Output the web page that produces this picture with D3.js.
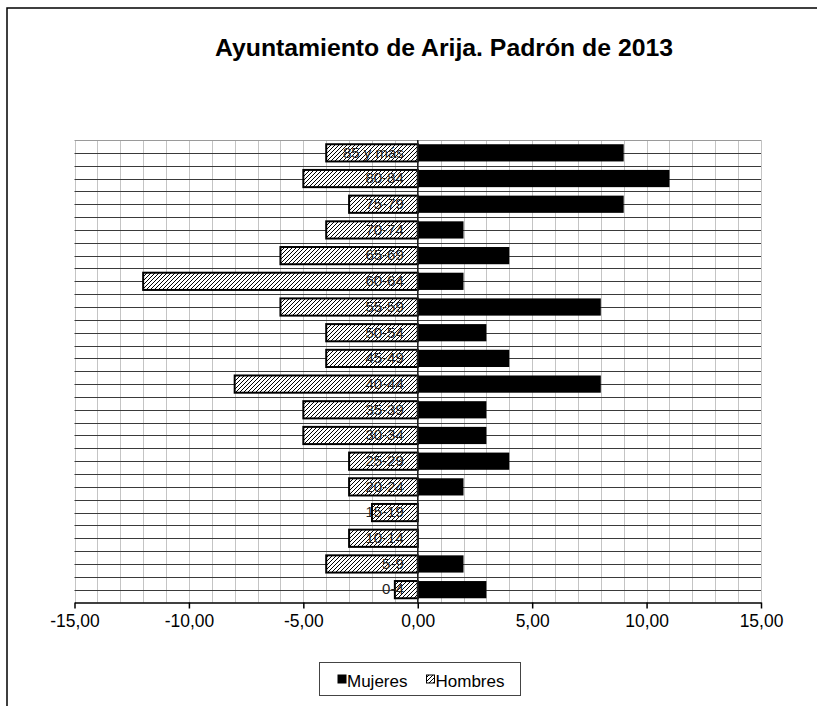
<!DOCTYPE html>
<html>
<head>
<meta charset="utf-8">
<script src="https://cdn.jsdelivr.net/npm/d3@7"></script>
<style>
  html, body { margin: 0; padding: 0; background: #fff; }
  svg { display: block; }
  text { font-family: "Liberation Sans", Arial, sans-serif; }
</style>
</head>
<body>
<svg id="chart" width="817" height="706"></svg>
<script>
// ---- data (bottom to top) ----
const categories = ["0-4","5-9","10-14","15-19","20-24","25-29","30-34","35-39","40-44","45-49","50-54","55-59","60-64","65-69","70-74","75-79","80-84","85 y más"];
const mujeres    = [3, 2, 0, 0, 2, 4, 3, 3, 8, 4, 3, 8, 2, 4, 2, 9, 11, 9];
const hombres    = [-1, -4, -3, -2, -3, -3, -5, -5, -8, -4, -4, -6, -12, -6, -4, -3, -5, -4];
const xTicks     = [-15, -10, -5, 0, 5, 10, 15];
const seriesNames = ["Mujeres", "Hombres"];
const titleText  = "Ayuntamiento de Arija. Padrón de 2013";

const svg = d3.select("#chart");

// outer frame (top and left edges visible)
svg.append("path").attr("d", "M7,706 V8 H817")
  .attr("fill", "none").attr("stroke", "#000").attr("stroke-width", 1.5);

// title
svg.append("text").attr("x", 444).attr("y", 56)
  .attr("text-anchor", "middle").attr("font-weight", "bold")
  .attr("font-size", 23.5).attr("textLength", 458).attr("lengthAdjust", "spacingAndGlyphs")
  .text(titleText);

const plot = { left: 74.5, right: 761, top: 140, bottom: 602.5 };

const x = d3.scaleLinear().domain([-15, 15]).range([plot.left, plot.right]);
const y = d3.scaleBand().domain(categories.slice().reverse())
  .range([plot.top, plot.bottom]).paddingInner(0.33).paddingOuter(0.165);
const yFull = d3.scaleLinear().domain([0, categories.length * 2]).range([plot.top, plot.bottom]);

// hatch pattern
const defs = svg.append("defs");
const pat = defs.append("pattern").attr("id", "hatch")
  .attr("patternUnits", "userSpaceOnUse").attr("width", 4).attr("height", 4);
pat.append("rect").attr("width", 4).attr("height", 4).attr("fill", "#fff");
pat.append("path").attr("d", "M-1,1 L1,-1 M0,4 L4,0 M3,5 L5,3")
  .attr("stroke", "#000").attr("stroke-width", 1);

const g = svg.append("g");

// vertical light gridlines each unit
g.append("g").selectAll("line").data(d3.range(-15, 16))
  .join("line")
  .attr("x1", d => Math.round(x(d)) + 0.5).attr("x2", d => Math.round(x(d)) + 0.5)
  .attr("y1", plot.top).attr("y2", plot.bottom)
  .attr("stroke", "#c4c4c4").attr("stroke-width", 1);

// horizontal dark gridlines at each half category
g.append("g").selectAll("line").data(d3.range(0, categories.length * 2))
  .join("line")
  .attr("x1", plot.left).attr("x2", plot.right)
  .attr("y1", d => Math.round(yFull(d)) + 0.5).attr("y2", d => Math.round(yFull(d)) + 0.5)
  .attr("stroke", (d) => d === 0 ? "#9a9a9a" : "#3a3a3a").attr("stroke-width", 1);

// Mujeres bars
g.append("g").selectAll("rect").data(categories)
  .join("rect")
  .attr("x", x(0))
  .attr("y", d => y(d))
  .attr("width", (d, i) => x(mujeres[i]) - x(0))
  .attr("height", y.bandwidth())
  .attr("fill", "#000");

// Hombres bars
g.append("g").selectAll("rect").data(categories)
  .join("rect")
  .attr("x", (d, i) => x(hombres[i]))
  .attr("y", d => y(d))
  .attr("width", (d, i) => x(0) - x(hombres[i]))
  .attr("height", y.bandwidth())
  .attr("fill", "url(#hatch)")
  .attr("stroke", "#000").attr("stroke-width", 2);

// zero axis line
g.append("line").attr("x1", x(0)).attr("x2", x(0))
  .attr("y1", plot.top).attr("y2", plot.bottom)
  .attr("stroke", "#222").attr("stroke-width", 1.5);

// category labels (axis at zero)
const yAxis = d3.axisLeft(y).tickSize(0).tickPadding(14);
const ya = svg.append("g").attr("transform", `translate(${x(0)},0)`).call(yAxis);
ya.select(".domain").remove();
ya.selectAll("text").attr("font-size", 15).attr("fill", "#222")
  .attr("font-family", "Liberation Sans, Arial, sans-serif");

// x axis
const fmt = d => d3.format(".2f")(d).replace(".", ",").replace("−", "-");
const xAxis = d3.axisBottom(x).tickValues(xTicks).tickFormat(fmt).tickSize(6).tickSizeOuter(0).tickPadding(5);
const xa = svg.append("g").attr("transform", `translate(0,${plot.bottom})`).call(xAxis);
xa.select(".domain").attr("stroke", "#000").attr("stroke-width", 1.5);
xa.selectAll(".tick line").attr("stroke", "#000").attr("stroke-width", 1.5);
xa.selectAll("text").attr("font-size", 19).attr("fill", "#000")
  .attr("transform", "scale(0.92,1)")
  .attr("font-family", "Liberation Sans, Arial, sans-serif");

// legend
const lg = svg.append("g");
lg.append("rect").attr("x", 319.5).attr("y", 662.5).attr("width", 201).attr("height", 33)
  .attr("fill", "#fff").attr("stroke", "#444").attr("stroke-width", 1);
const legendItems = [
  { name: seriesNames[0], sx: 338, fill: "#000" },
  { name: seriesNames[1], sx: 426.5, fill: "url(#hatch)" }
];
legendItems.forEach(it => {
  lg.append("rect").attr("x", it.sx).attr("y", 675).attr("width", 8).attr("height", 8)
    .attr("fill", it.fill).attr("stroke", "#000").attr("stroke-width", 1);
  lg.append("text").attr("x", it.sx + 9).attr("y", 686.5)
    .attr("font-size", 17).attr("fill", "#000").text(it.name);
});
</script>
</body>
</html>
